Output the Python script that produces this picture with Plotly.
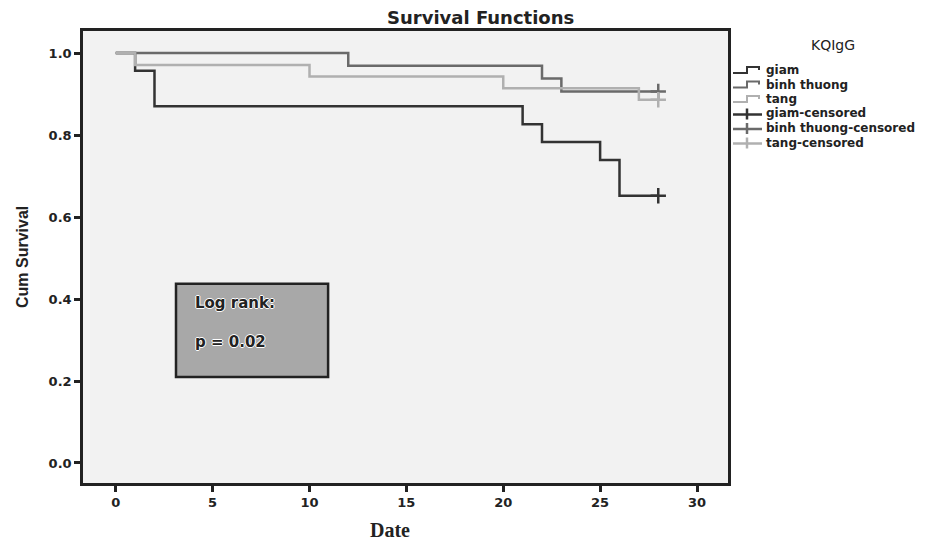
import plotly.graph_objects as go

# Kaplan-Meier step data (time, cumulative survival)
giam_t = [0, 1, 2, 21, 22, 25, 26, 28]
giam_s = [1.0, 0.957, 0.870, 0.826, 0.783, 0.739, 0.652, 0.652]
binh_t = [0, 12, 22, 23, 28]
binh_s = [1.0, 0.969, 0.938, 0.906, 0.906]
tang_t = [0, 1, 10, 20, 27, 28]
tang_s = [1.0, 0.971, 0.943, 0.914, 0.886, 0.886]

cens_t = [28]
giam_c = [0.652]
binh_c = [0.906]
tang_c = [0.886]

names = ["giam", "binh thuong", "tang"]
colors = ["#333333", "#6a6a6a", "#b0b0b0"]

x_ticks = [0, 5, 10, 15, 20, 25, 30]
y_ticks = [0.0, 0.2, 0.4, 0.6, 0.8, 1.0]

fig = go.Figure()
for n, t, s, c in zip(names, [giam_t, binh_t, tang_t], [giam_s, binh_s, tang_s], colors):
    fig.add_trace(go.Scatter(x=t, y=s, mode="lines", name=n,
                             line=dict(color=c, width=2.5, shape="hv")))
for n, s, c in zip(names, [giam_c, binh_c, tang_c], colors):
    fig.add_trace(go.Scatter(x=cens_t, y=s, mode="markers", name=n + "-censored",
                             marker=dict(symbol="cross-thin-open", size=11, color=c,
                                         line=dict(color=c, width=2.5))))

tickfont = dict(family="DejaVu Sans", size=13, color="#222", weight="bold")
fig.update_xaxes(range=[-1.69, 31.6], tickvals=x_ticks, ticks="outside", ticklen=6,
                 tickwidth=2.5, tickcolor="#222", showgrid=False, zeroline=False,
                 showline=True, linecolor="#222", linewidth=2.5, mirror=True,
                 tickfont=tickfont)
fig.update_yaxes(range=[-0.0488, 1.0537], tickvals=y_ticks, ticktext=[f"{v:.1f}" for v in y_ticks],
                 ticks="outside", ticklen=6, tickwidth=2.5, tickcolor="#222",
                 showgrid=False, zeroline=False, showline=True, linecolor="#222",
                 linewidth=2.5, mirror=True, tickfont=tickfont)

# Log rank box
fig.add_shape(type="rect", xref="x", yref="y", x0=3.11, x1=10.96, y0=0.210, y1=0.437,
              fillcolor="#a8a8a8", line=dict(color="#222", width=2.5))
shadow = "white 1px 0px 0px, white -1px 0px 0px, white 0px 1px 0px, white 0px -1px 0px"
fig.add_annotation(x=4.0, y=0.390, xref="x", yref="y", xanchor="left", yanchor="middle",
                   showarrow=False, text="<b>Log rank:</b>",
                   font=dict(family="DejaVu Sans", size=15, color="#222", shadow=shadow))
fig.add_annotation(x=4.0, y=0.295, xref="x", yref="y", xanchor="left", yanchor="middle",
                   showarrow=False, text="<b>p = 0.02</b>",
                   font=dict(family="DejaVu Sans", size=15, color="#222", shadow=shadow))

# titles
W, H, L, T, R, B = 929, 535, 75, 23, 209, 60
PW, PH = W - L - R, H - T - B
OFF = 8  # page offset


def px(x):
    return (x - OFF - L) / PW


def py(y):
    return (H + OFF - B - y) / PH


fig.add_annotation(x=px(480), y=py(18), xref="paper", yref="paper", xanchor="center",
                   yanchor="middle", showarrow=False, text="<b>Survival Functions</b>",
                   font=dict(family="DejaVu Sans", size=18, color="#222"))
fig.add_annotation(x=px(390), y=py(530), xref="paper", yref="paper", xanchor="center",
                   yanchor="middle", showarrow=False, text="<b>Date</b>",
                   font=dict(family="Liberation Serif", size=20, color="#222"))
fig.add_annotation(x=px(22), y=0.5, xref="paper", yref="paper", xanchor="center",
                   yanchor="middle", showarrow=False, text="<b>Cum Survival</b>", textangle=-90,
                   font=dict(family="Liberation Sans Narrow, Liberation Sans", size=16, color="#222"))

# manual legend
fig.add_annotation(x=px(833), y=py(45), xref="paper", yref="paper", xanchor="center",
                   yanchor="middle", showarrow=False, text="KQIgG",
                   font=dict(family="DejaVu Sans", size=14, color="#222"))
leg_labels = names + [n + "-censored" for n in names]
leg_colors = colors + colors
for i, (lab, c) in enumerate(zip(leg_labels, leg_colors)):
    yy = 70 + 14.5 * i
    if i < 3:
        path = (f"M {px(733)},{py(yy + 3)} L {px(747)},{py(yy + 3)} L {px(747)},{py(yy - 3)} "
                f"L {px(759)},{py(yy - 3)} L {px(759)},{py(yy)}")
        fig.add_shape(type="path", xref="paper", yref="paper", path=path,
                      line=dict(color=c, width=2))
    else:
        fig.add_shape(type="line", xref="paper", yref="paper", x0=px(733), x1=px(762),
                      y0=py(yy + 1), y1=py(yy + 1), line=dict(color=c, width=2.5))
        fig.add_shape(type="line", xref="paper", yref="paper", x0=px(747), x1=px(747),
                      y0=py(yy - 5), y1=py(yy + 6), line=dict(color=c, width=2.5))
    fig.add_annotation(x=px(764), y=py(yy), xref="paper", yref="paper", xanchor="left",
                       yanchor="middle", showarrow=False, text=f"<b>{lab}</b>",
                       font=dict(family="DejaVu Sans", size=12, color="#222"))

fig.update_layout(
    width=W, height=H,
    margin=dict(l=L, r=R, t=T, b=B),
    paper_bgcolor="white", plot_bgcolor="#f2f2f2",
    showlegend=False,
)

fig.write_html("out.html")
